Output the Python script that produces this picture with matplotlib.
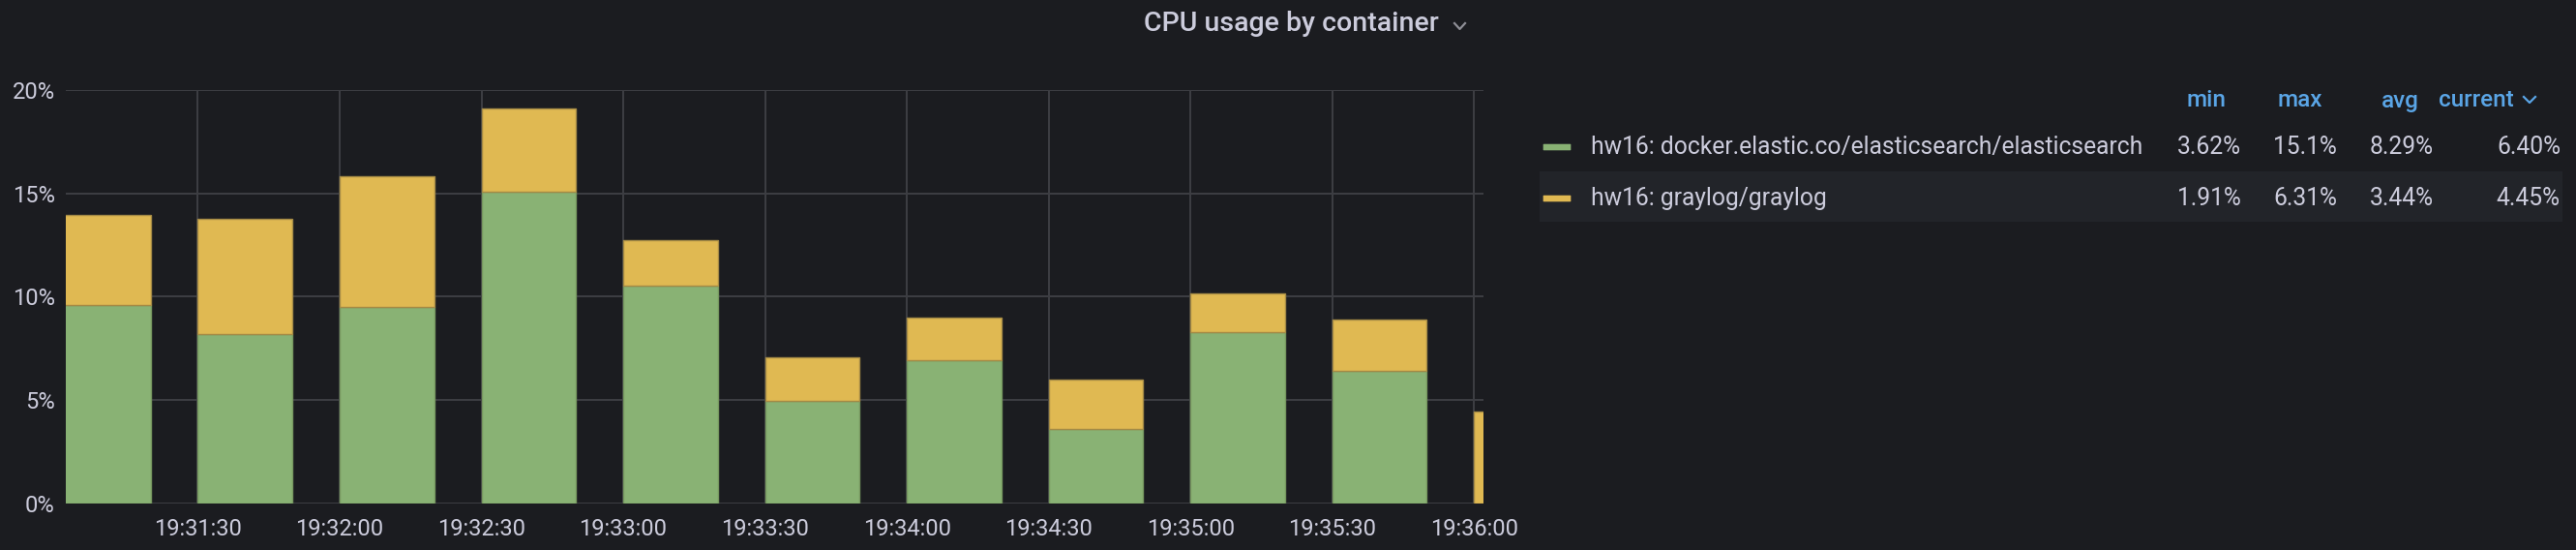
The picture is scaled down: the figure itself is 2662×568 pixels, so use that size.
import matplotlib
matplotlib.use("Agg")
import matplotlib.pyplot as plt
import matplotlib.dates as mdates
import pandas as pd
import numpy as np
from matplotlib.patches import Rectangle, FancyBboxPatch
from matplotlib.lines import Line2D

# ---------------- data ----------------
times = ["19:31:00", "19:31:30", "19:32:00", "19:32:30", "19:33:00", "19:33:30",
         "19:34:00", "19:34:30", "19:35:00", "19:35:30", "19:36:00"]
elastic = [9.59, 8.17, 9.49, 15.08, 10.53, 4.96, 6.93, 3.62, 8.27, 6.40, np.nan]
graylog = [4.36, 5.57, 6.31, 4.03, 2.20, 2.12, 2.04, 2.36, 1.91, 2.47, 4.45]
tick_labels = ["19:31:30", "19:32:00", "19:32:30", "19:33:00", "19:33:30",
               "19:34:00", "19:34:30", "19:35:00", "19:35:30", "19:36:00"]
y_ticks = [0, 5, 10, 15, 20]
series_names = ["hw16: docker.elastic.co/elasticsearch/elasticsearch",
                "hw16: graylog/graylog"]
stat_headers = ["min", "max", "avg", "current"]
stat_values = [["3.62%", "15.1%", "8.29%", "6.40%"],
               ["1.91%", "6.31%", "3.44%", "4.45%"]]
title = "CPU usage by container"

# ---------------- style ----------------
W, H = 2662, 568
BG = "#1b1c20"
GRID = "#3d3e43"
TXT = "#ccccdc"
GREEN = "#89b274"
YELLOW = "#e0b952"
BLUE = "#5aa5e6"
FONT = ["Roboto", "DejaVu Sans"]

plt.rcParams["font.family"] = FONT

fig = plt.figure(figsize=(W / 100, H / 100), dpi=100, facecolor=BG)


def fx(px):
    return px / W


def fy(py):
    return 1 - py / H


ax_left, ax_right, ax_top, ax_bottom = 67.7, 1533, 92.7, 520
ax = fig.add_axes([fx(ax_left), fy(ax_bottom), fx(ax_right - ax_left), (ax_bottom - ax_top) / H])
ax.set_facecolor(BG)

base = "2023-01-01 "
x = mdates.date2num(pd.to_datetime([base + t for t in times]))
width = 20 / 86400.0
el = np.array(elastic, dtype=float)
gl = np.array(graylog, dtype=float)

ax.bar(x, el, width=width, align="edge", color=GREEN, edgecolor="#76975f",
       linewidth=1.0, zorder=3)
ax.bar(x, gl, width=width, align="edge", bottom=np.nan_to_num(el), color=YELLOW,
       edgecolor="#a48a45", linewidth=1.0, zorder=3)

xt = mdates.date2num(pd.to_datetime([base + t for t in tick_labels]))
ax.set_xticks(xt)
ax.set_xticklabels(tick_labels)
ax.set_yticks(y_ticks)
ax.set_yticklabels([f"{v}%" for v in y_ticks])
ax.set_ylim(0, 20)
ax.set_xlim(x[0] + 2 / 86400.0, x[-1] + 2 / 86400.0)

ax.grid(True, color=GRID, linewidth=1.4, zorder=0)
ax.set_axisbelow(True)
for s in ax.spines.values():
    s.set_visible(False)
ax.tick_params(length=0, colors=TXT, labelsize=17)
ax.tick_params(axis="y", pad=8)
ax.tick_params(axis="x", pad=11)

# ---------------- title ----------------
fig.text(fx(1334), fy(25), title, ha="center", va="center", fontsize=20.5,
         fontweight="medium", color=TXT)
fig.add_artist(Line2D([fx(1503), fx(1508.5), fx(1514)], [fy(24), fy(30), fy(24)],
                      color="#8e8e96", linewidth=1.6))

# ---------------- legend table ----------------
fig.add_artist(Rectangle((fx(1591), fy(228.7)), fx(2648 - 1591), (228.7 - 176.7) / H,
                         facecolor="#222429", edgecolor="none"))

header_right = [2300, 2400, 2500, 2598]
for hdr, xr in zip(stat_headers, header_right):
    fig.text(fx(xr), fy(104), hdr, ha="right", va="center", fontsize=17.5,
             fontweight="medium", color=BLUE)
fig.add_artist(Line2D([fx(2608), fx(2614), fx(2620)], [fy(100), fy(106), fy(100)],
                      color=BLUE, linewidth=1.6))

row_y = [152, 205]
colors = [GREEN, YELLOW]
value_right = [2316, 2415, 2515, 2646]
for name, col, yy, vals in zip(series_names, colors, row_y, stat_values):
    fig.add_artist(FancyBboxPatch((fx(1596), fy(yy + 3)), fx(26), 6 / H,
                                  boxstyle="round,pad=0.0005", facecolor=col,
                                  edgecolor="none"))
    fig.text(fx(1643.5), fy(yy), name, ha="left", va="center", fontsize=17.7, color=TXT)
    for v, xr in zip(vals, value_right):
        fig.text(fx(xr), fy(yy), v, ha="right", va="center", fontsize=17.7, color=TXT)

fig.savefig("out.png", dpi=100, facecolor=BG)
